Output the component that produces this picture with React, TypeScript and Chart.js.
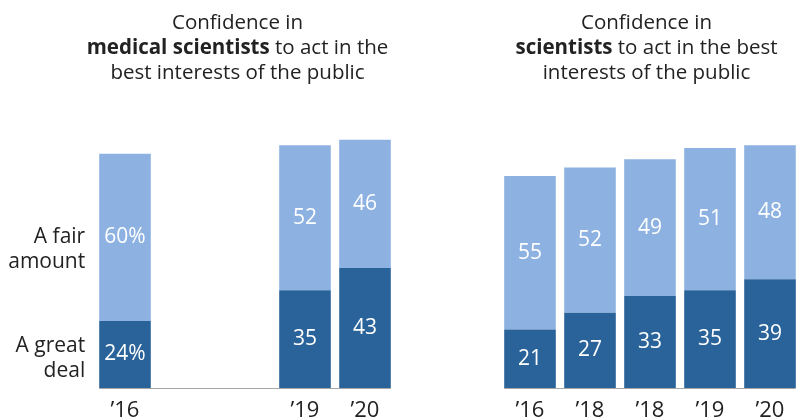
import React, { useEffect, useRef } from "react";
import { Chart, registerables } from "chart.js";

Chart.register(...registerables);

// ---- Data ----
const medYears = ["’16", "’17", "’18", "’19", "’20"];
const medGreatDeal: (number | null)[] = [24, null, null, 35, 43];
const medFairAmount: (number | null)[] = [60, null, null, 52, 46];

const sciYears = ["’16", "’18", "’18", "’19", "’20"];
const sciGreatDeal = [21, 27, 33, 35, 39];
const sciFairAmount = [55, 52, 49, 51, 48];

const seriesNames = ["A great deal", "A fair amount"];
const medTitle = [
  [{ t: "Confidence in", b: false }],
  [{ t: "medical scientists", b: true }, { t: " to act in the", b: false }],
  [{ t: "best interests of the public", b: false }],
];
const sciTitle = [
  [{ t: "Confidence in", b: false }],
  [{ t: "scientists", b: true }, { t: " to act in the best", b: false }],
  [{ t: "interests of the public", b: false }],
];

const DARK = "#2a6399";
const LIGHT = "#8db2e1";
const FONT = "'Open Sans', Roboto, sans-serif";
const CANVAS_H = 434;

type Seg = { t: string; b: boolean };

function makePlugin(title: Seg[][], titleCenterOffset: number, showSeries: boolean, pctFirst: boolean) {
  return {
    id: "custom",
    afterDatasetsDraw(chart: any) {
      const ctx = chart.ctx;
      const area = chart.chartArea;
      ctx.save();
      const metaDark = chart.getDatasetMeta(0);
      const metaLight = chart.getDatasetMeta(1);
      const els = metaDark.data.filter((e: any, i: number) => chart.data.datasets[0].data[i] != null);
      const first = els[0];
      const last = els[els.length - 1];
      ctx.strokeStyle = "#a6a6a6";
      ctx.lineWidth = 1;
      ctx.beginPath();
      ctx.moveTo(first.x - first.width / 2, Math.round(area.bottom) + 0.5);
      ctx.lineTo(last.x + last.width / 2, Math.round(area.bottom) + 0.5);
      ctx.stroke();

      // value labels
      ctx.fillStyle = "#ffffff";
      ctx.font = `21px ${FONT}`;
      ctx.textAlign = "center";
      ctx.textBaseline = "middle";
      [metaDark, metaLight].forEach((meta: any, di: number) => {
        meta.data.forEach((el: any, i: number) => {
          const v = chart.data.datasets[di].data[i];
          if (v == null) return;
          const label = pctFirst && i === 0 ? `${v}%` : `${v}`;
          ctx.fillText(label, el.x, (el.y + el.base) / 2);
        });
      });

      // series labels
      if (showSeries) {
        ctx.fillStyle = "#222222";
        ctx.font = `21px ${FONT}`;
        ctx.textAlign = "right";
        ctx.textBaseline = "alphabetic";
        const d = metaDark.data[0];
        const l = metaLight.data[0];
        const xr = d.x - d.width / 2 - 14;
        const gc = (d.y + d.base) / 2;
        const fc = (l.y + l.base) / 2;
        const fair = seriesNames[1].split(" ");
        const great = seriesNames[0].split(" ");
        ctx.fillText(fair.slice(0, 2).join(" "), xr, fc + 5.5);
        ctx.fillText(fair.slice(2).join(" "), xr, fc + 30.5);
        ctx.fillText(great.slice(0, 2).join(" "), xr, gc - 2.5);
        ctx.fillText(great.slice(2).join(" "), xr, gc + 22.5);
      }

      // title
      ctx.fillStyle = "#222222";
      ctx.textAlign = "left";
      ctx.textBaseline = "alphabetic";
      const cx = (area.left + area.right) / 2 + titleCenterOffset;
      title.forEach((line, li) => {
        let w = 0;
        line.forEach((s) => {
          ctx.font = `${s.b ? "bold " : ""}20.5px ${FONT}`;
          w += ctx.measureText(s.t).width;
        });
        let x = cx - w / 2;
        const y = 29 + li * 25;
        line.forEach((s) => {
          ctx.font = `${s.b ? "bold " : ""}20.5px ${FONT}`;
          ctx.fillText(s.t, x, y);
          x += ctx.measureText(s.t).width;
        });
      });
      ctx.restore();
    },
  };
}

function makeConfig(
  labels: string[],
  dark: (number | null)[],
  light: (number | null)[],
  padLeft: number,
  padRight: number,
  plugin: any
): any {
  return {
    type: "bar",
    data: {
      labels,
      datasets: [
        { label: seriesNames[0], data: dark, backgroundColor: DARK, borderWidth: 0, barPercentage: 0.86, categoryPercentage: 1 },
        { label: seriesNames[1], data: light, backgroundColor: LIGHT, borderWidth: 0, barPercentage: 0.86, categoryPercentage: 1 },
      ],
    },
    options: {
      animation: false,
      responsive: false,
      maintainAspectRatio: false,
      layout: { padding: { left: padLeft, right: padRight, top: 109, bottom: 0 } },
      plugins: { legend: { display: false }, tooltip: { enabled: false }, title: { display: false } },
      scales: {
        x: {
          stacked: true,
          grid: { display: false, drawTicks: false },
          border: { display: false },
          ticks: {
            padding: 13,
            color: "#222222",
            font: { family: FONT, size: 22, lineHeight: 0.91 },
            maxRotation: 0,
            autoSkip: false,
            callback: (_v: any, i: number) => (dark[i] == null ? "" : labels[i]),
          },
        },
        y: { stacked: true, display: false, min: 0, max: 100 },
      },
    },
    plugins: [plugin],
  };
}

export default function App() {
  const leftRef = useRef<HTMLCanvasElement>(null);
  const rightRef = useRef<HTMLCanvasElement>(null);

  useEffect(() => {
    document.body.style.margin = "0";
    const c1 = new Chart(
      leftRef.current as HTMLCanvasElement,
      makeConfig(medYears, medGreatDeal, medFairAmount, 95, 5, makePlugin(medTitle, -7.5, true, true))
    );
    const c2 = new Chart(
      rightRef.current as HTMLCanvasElement,
      makeConfig(sciYears, sciGreatDeal, sciFairAmount, 100, 1, makePlugin(sciTitle, -3.5, false, false))
    );
    return () => {
      c1.destroy();
      c2.destroy();
    };
  }, []);

  return (
    <div style={{ position: "absolute", left: 0, top: 0, width: 801, height: 417, overflow: "hidden", background: "#fff", display: "flex" }}>
      <canvas ref={leftRef} width={400} height={CANVAS_H} style={{ width: 400, height: CANVAS_H, display: "block" }} />
      <canvas ref={rightRef} width={401} height={CANVAS_H} style={{ width: 401, height: CANVAS_H, display: "block" }} />
    </div>
  );
}
